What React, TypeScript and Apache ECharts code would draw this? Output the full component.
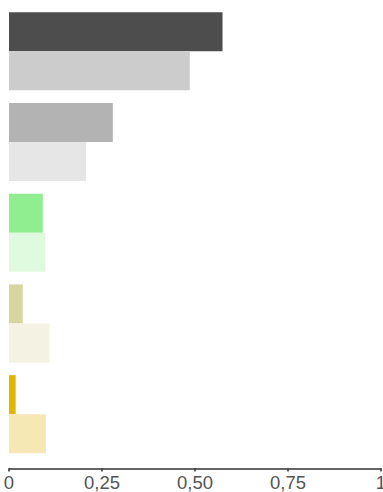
import React, { useEffect, useRef } from "react";
import * as echarts from "echarts";

const categories = ["A", "B", "C", "D", "E"];
const darkValues = [0.574, 0.279, 0.091, 0.037, 0.018];
const lightValues = [0.486, 0.207, 0.098, 0.109, 0.099];
const darkColors = ["#4d4d4d", "#b3b3b3", "#90ee90", "#d6d6a0", "#e2b600"];
const lightColors = ["#cccccc", "#e6e6e6", "#dffadf", "#f4f2e2", "#f5e8b5"];

function fmt(v: number): string {
  if (v === 0) return "0";
  if (v === 1) return "1";
  return v.toFixed(2).replace(".", ",");
}

export default function App() {
  const ref = useRef<HTMLDivElement>(null);
  useEffect(() => {
    if (!ref.current) return;
    const chart = echarts.init(ref.current, undefined, { renderer: "svg" });
    chart.setOption({
      animation: false,
      grid: {
        left: 9,
        right: 2,
        top: 5.8,
        height: 453.7,
        containLabel: false,
        outerBoundsMode: "none",
      },
      xAxis: {
        type: "value",
        min: 0,
        max: 1,
        interval: 0.25,
        offset: 9,
        splitLine: { show: false },
        axisLine: { show: true, lineStyle: { color: "#333", width: 1.5 } },
        axisTick: { show: true, length: 3, lineStyle: { color: "#333", width: 1.5 } },
        axisLabel: {
          formatter: (v: number) => fmt(v),
          color: "#555",
          fontSize: 18.5,
          fontFamily: "Liberation Sans, Arial, sans-serif",
          margin: 4,
          showMinLabel: true,
          showMaxLabel: true,
        },
      },
      yAxis: {
        type: "category",
        data: categories,
        inverse: true,
        show: false,
      },
      series: [
        {
          type: "bar",
          data: darkValues.map((v, i) => ({ value: v, itemStyle: { color: darkColors[i] } })),
          barGap: "0%",
          barCategoryGap: "14%",
        },
        {
          type: "bar",
          data: lightValues.map((v, i) => ({ value: v, itemStyle: { color: lightColors[i] } })),
          barGap: "0%",
          barCategoryGap: "14%",
        },
      ],
    });
    return () => chart.dispose();
  }, []);
  return <div ref={ref} style={{ width: 383, height: 492, position: "absolute", left: 0, top: 0 }} />;
}
